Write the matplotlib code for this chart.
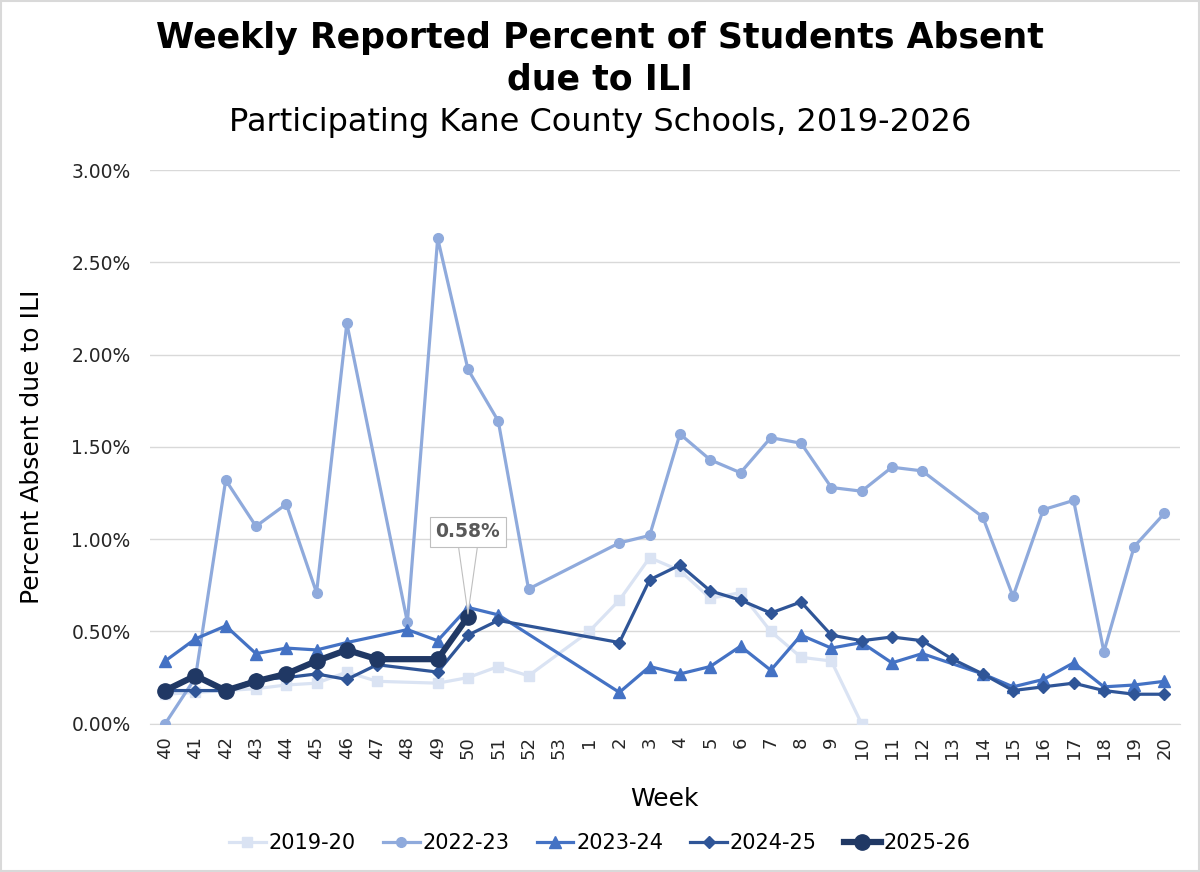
import numpy as np
import matplotlib
matplotlib.use('Agg')
import matplotlib.pyplot as plt
from matplotlib.patches import Rectangle

nan = np.nan

weeks = ['40', '41', '42', '43', '44', '45', '46', '47', '48', '49', '50', '51', '52', '53',
         '1', '2', '3', '4', '5', '6', '7', '8', '9', '10', '11', '12', '13', '14', '15',
         '16', '17', '18', '19', '20']

# percent absent, nan = no report that week
s2019 = [0.16, 0.17, 0.18, 0.19, 0.21, 0.22, 0.28, 0.23, nan, 0.22, 0.25, 0.31, 0.26, nan,
         0.50, 0.67, 0.90, 0.83, 0.68, 0.71, 0.50, 0.36, 0.34, 0.00,
         nan, nan, nan, nan, nan, nan, nan, nan, nan, nan]
s2022 = [0.00, 0.25, 1.32, 1.07, 1.19, 0.71, 2.17, nan, 0.55, 2.63, 1.92, 1.64, 0.73, nan,
         nan, 0.98, 1.02, 1.57, 1.43, 1.36, 1.55, 1.52, 1.28, 1.26, 1.39, 1.37, nan, 1.12,
         0.69, 1.16, 1.21, 0.39, 0.96, 1.14]
s2023 = [0.34, 0.46, 0.53, 0.38, 0.41, 0.40, 0.44, nan, 0.51, 0.45, 0.63, 0.59, nan, nan,
         nan, 0.17, 0.31, 0.27, 0.31, 0.42, 0.29, 0.48, 0.41, 0.44, 0.33, 0.38, nan, 0.27,
         0.20, 0.24, 0.33, 0.20, 0.21, 0.23]
s2024 = [0.18, 0.18, 0.18, 0.24, 0.25, 0.27, 0.24, 0.32, nan, 0.28, 0.48, 0.56, nan, nan,
         nan, 0.44, 0.78, 0.86, 0.72, 0.67, 0.60, 0.66, 0.48, 0.45, 0.47, 0.45, 0.35, 0.27,
         0.18, 0.20, 0.22, 0.18, 0.16, 0.16]
s2025 = [0.18, 0.26, 0.18, 0.23, 0.27, 0.34, 0.40, 0.35, nan, 0.35, 0.58, nan, nan, nan,
         nan, nan, nan, nan, nan, nan, nan, nan, nan, nan, nan, nan, nan, nan,
         nan, nan, nan, nan, nan, nan]

seasons = ['2019-20', '2022-23', '2023-24', '2024-25', '2025-26']
series = [s2019, s2022, s2023, s2024, s2025]
colors = ['#DAE3F3', '#8FAADC', '#4472C4', '#2F5597', '#203864']
markers = ['s', 'o', '^', 'D', 'o']
msizes = [7, 7, 8, 6, 11]
lwidths = [2.3, 2.3, 2.3, 2.3, 4.5]

fig = plt.figure(figsize=(12, 8.72), dpi=100)
ax = fig.add_axes([0.125, 0.170, 0.858, 0.635])

x = np.arange(len(weeks))
for i in range(len(series)):
    y = np.array(series[i], dtype=float)
    ok = ~np.isnan(y)
    ax.plot(x[ok], y[ok], color=colors[i], marker=markers[i], markersize=msizes[i],
            linewidth=lwidths[i], label=seasons[i], zorder=3 + i)

# label on latest point
last = 10
ax.annotate('0.58%', xy=(x[last], s2025[last]), xytext=(x[last], 1.04),
            ha='center', va='center', fontsize=13.5, fontweight='bold', color='#595959',
            bbox=dict(boxstyle='square,pad=0.3', fc='white', ec='#BFBFBF', lw=0.8),
            arrowprops=dict(arrowstyle='wedge,tail_width=1.0', fc='white', ec='#BFBFBF',
                            lw=0.8, shrinkA=0, shrinkB=2),
            zorder=10)

ax.set_xlim(-0.5, len(weeks) - 0.5)
ax.set_ylim(0, 3.0)
ax.set_yticks(np.arange(0, 3.01, 0.5))
ax.set_yticklabels(['%.2f%%' % v for v in np.arange(0, 3.01, 0.5)])
ax.set_xticks(x)
ax.set_xticklabels(weeks, rotation=90)
ax.tick_params(axis='both', length=0)
ax.tick_params(axis='y', pad=14, labelsize=13.5, labelcolor='#262626')
ax.tick_params(axis='x', pad=9, labelsize=13, labelcolor='#262626')
ax.grid(axis='y', color='#D9D9D9', linewidth=1)
ax.set_axisbelow(True)
for sp in ['top', 'right', 'left']:
    ax.spines[sp].set_visible(False)
ax.spines['bottom'].set_color('#D9D9D9')

ax.set_xlabel('Week', fontsize=18, labelpad=20)
ax.set_ylabel('Percent Absent due to ILI', fontsize=18, labelpad=20)

fig.text(0.5, 0.956, 'Weekly Reported Percent of Students Absent', ha='center', va='center',
         fontsize=25, fontweight='bold')
fig.text(0.5, 0.909, 'due to ILI', ha='center', va='center', fontsize=25, fontweight='bold')
fig.text(0.5, 0.860, 'Participating Kane County Schools, 2019-2026', ha='center',
         va='center', fontsize=23)

fig.legend(loc='center', bbox_to_anchor=(0.5, 0.033), ncol=5, frameon=False, fontsize=15,
           handlelength=1.75, columnspacing=1.3, handletextpad=0.15)

fig.patches.append(Rectangle((0.001, 0.001), 0.998, 0.998, transform=fig.transFigure,
                             fill=False, ec='#D9D9D9', lw=1.5))

fig.savefig('out.png', dpi=100, facecolor='white')
